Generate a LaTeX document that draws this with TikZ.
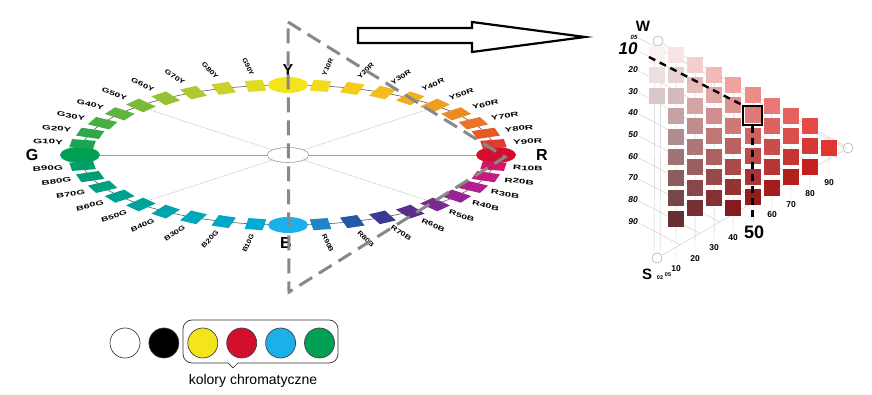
\documentclass[tikz,border=0pt]{standalone}
\usepackage{fontspec}
\setmainfont{Liberation Sans}
\usepackage{graphicx}
\usetikzlibrary{shapes.geometric,positioning}

\definecolor{cutgray}{HTML}{888888}
\definecolor{ncsred}{RGB}{226,36,30}
\definecolor{ncsblack}{RGB}{66,22,28}
\definecolor{dotY}{HTML}{F4E41C}
\definecolor{dotR}{HTML}{D2102E}
\definecolor{dotB}{HTML}{1CB0E8}
\definecolor{dotG}{HTML}{00A054}
% swatches of the hue circle
\definecolor{hueY10R}{HTML}{F2DA1C}
\definecolor{hueY20R}{HTML}{F4CC1C}
\definecolor{hueY30R}{HTML}{F3BE1D}
\definecolor{hueY40R}{HTML}{F2AE1E}
\definecolor{hueY50R}{HTML}{F09E20}
\definecolor{hueY60R}{HTML}{EE8A22}
\definecolor{hueY70R}{HTML}{EB7424}
\definecolor{hueY80R}{HTML}{E65A28}
\definecolor{hueY90R}{HTML}{DE3A2E}
\definecolor{hueR10B}{HTML}{D4166A}
\definecolor{hueR20B}{HTML}{C81A82}
\definecolor{hueR30B}{HTML}{B21E8E}
\definecolor{hueR40B}{HTML}{962490}
\definecolor{hueR50B}{HTML}{7A2A8E}
\definecolor{hueR60B}{HTML}{5C2E8C}
\definecolor{hueR70B}{HTML}{3A3A96}
\definecolor{hueR80B}{HTML}{2458AC}
\definecolor{hueR90B}{HTML}{1C86C8}
\definecolor{hueB10G}{HTML}{00AAD4}
\definecolor{hueB20G}{HTML}{00A8C8}
\definecolor{hueB30G}{HTML}{00A6BA}
\definecolor{hueB40G}{HTML}{00A4AC}
\definecolor{hueB50G}{HTML}{00A29E}
\definecolor{hueB60G}{HTML}{00A090}
\definecolor{hueB70G}{HTML}{00A082}
\definecolor{hueB80G}{HTML}{009E76}
\definecolor{hueB90G}{HTML}{009E6A}
\definecolor{hueG10Y}{HTML}{18A450}
\definecolor{hueG20Y}{HTML}{30A848}
\definecolor{hueG30Y}{HTML}{48AE42}
\definecolor{hueG40Y}{HTML}{60B43C}
\definecolor{hueG50Y}{HTML}{7ABA38}
\definecolor{hueG60Y}{HTML}{94C232}
\definecolor{hueG70Y}{HTML}{AECA2C}
\definecolor{hueG80Y}{HTML}{C8D228}
\definecolor{hueG90Y}{HTML}{DCDC24}

\tikzset{
  huedot/.style={
    ellipse,
    minimum width=40pt,
    minimum height=16pt,
    inner sep=0pt
  },
  hub/.style={
    ellipse,
    draw=gray!80,
    fill=white,
    line width=0.6pt,
    minimum width=42pt,
    minimum height=15pt,
    inner sep=0pt
  },
  huename/.style={
    font=\fontsize{6.5}{6.5}\selectfont\bfseries,
    inner sep=0.6pt
  },
  primary/.style={
    font=\fontsize{16}{16}\selectfont\bfseries,
    inner sep=0pt
  },
  huering/.style={draw=gray!70!black, line width=0.6pt},
  spoke/.style={draw=gray!75, line width=0.8pt},
  diagspoke/.style={draw=gray!75, line width=0.6pt, densely dotted},
  cutline/.style={draw=cutgray, line width=3pt, dash pattern=on 15pt off 8pt},
  hollowarrow/.style={draw=black, line width=2.2pt, fill=white, line join=miter},
  gridline/.style={draw=gray!40, line width=0.45pt},
  axisend/.style={
    circle,
    draw=gray!60,
    fill=white,
    line width=0.6pt,
    minimum size=10pt,
    inner sep=0pt
  },
  levelnum/.style={font=\fontsize{8.5}{8.5}\selectfont\bfseries\itshape, inner sep=1pt},
  chromanum/.style={font=\fontsize{8.5}{8.5}\selectfont\bfseries, inner sep=1pt},
  axisname/.style={font=\fontsize{15}{15}\selectfont\bfseries, inner sep=0pt},
  picked/.style={draw=black, line width=2.4pt, minimum size=19pt, inner sep=0pt},
  pickline/.style={draw=black, line width=2.4pt, dash pattern=on 7pt off 5pt},
  sample/.style={
    circle,
    draw=black!75,
    line width=0.7pt,
    minimum size=30pt,
    inner sep=0pt
  },
  bracket/.style={draw=black!80, line width=0.7pt}
}

\begin{document}
\begin{tikzpicture}[x=1pt, y=1pt]
    \useasboundingbox (0,0) rectangle (872,395);

    % hue circle
    \draw[huering] (288,240) ellipse [x radius=208, y radius=70];
    \node[hub] (hub) at (288,240) {};
    \node[huedot, fill=dotR] (dR) at (496,240) {};
    \node[huedot, fill=dotY] (dY) at (288,310) {};
    \node[huedot, fill=dotG] (dG) at (80,240) {};
    \node[huedot, fill=dotB] (dB) at (288,170) {};
    \node[primary] (lR) at (542,240) {R};
    \node[primary] (lY) at (288,325) {Y};
    \node[primary] (lG) at (32,240) {G};
    \node[primary] (lB) at (286,152) {B};

    \foreach \i/\lab in {1/Y90R,2/Y80R,3/Y70R,4/Y60R,5/Y50R,6/Y40R,7/Y30R,8/Y20R,9/Y10R,
        11/G90Y,12/G80Y,13/G70Y,14/G60Y,15/G50Y,16/G40Y,17/G30Y,18/G20Y,19/G10Y,
        21/B90G,22/B80G,23/B70G,24/B60G,25/B50G,26/B40G,27/B30G,28/B20G,29/B10G,
        31/R90B,32/R80B,33/R70B,34/R60B,35/R50B,36/R40B,37/R30B,38/R20B,39/R10B}{
        \pgfmathsetmacro\hueang{9*\i}
        \pgfmathsetmacro\labang{atan2(70*sin(\hueang),208*cos(\hueang))}
        \pgfmathsetmacro\sx{1+0.8*abs(cos(\hueang))}
        \pgfmathtruncatemacro\rside{cos(\hueang)>0}
        \coordinate (s\i) at ({288+208*cos(\hueang)},{240+70*sin(\hueang)});
        \coordinate (in\i) at ({288+196*cos(\hueang)},{240+64*sin(\hueang)});
        \fill[fill=hue\lab, shift={(s\i)}, yscale=0.46, rotate=\hueang] (-12,-9) rectangle (12,9);
        \ifnum\rside=1
            \node[huename, anchor=west, rotate=\labang] (n\lab)
                at ({288+227*cos(\hueang)},{240+80*sin(\hueang)}) {\scalebox{\sx}[1]{\lab}};
        \else
            \node[huename, anchor=east, rotate=\labang+180] (n\lab)
                at ({288+227*cos(\hueang)},{240+80*sin(\hueang)}) {\scalebox{\sx}[1]{\lab}};
        \fi
    }

    \draw[spoke] (hub) -- (dG);
    \draw[spoke] (hub) -- (dR);
    \draw[diagspoke] (hub) -- (in5);
    \draw[diagspoke] (hub) -- (in15);
    \draw[diagspoke] (hub) -- (in25);
    \draw[diagspoke] (hub) -- (in35);

    % cut through the circle
    \coordinate (apex) at (288,373);
    \coordinate (tip) at (505,238);
    \coordinate (foot) at (289,103);
    \draw[cutline] (apex) -- (tip) -- (foot) -- cycle;

    \draw[hollowarrow] (358,352) -- (472,352) -- (472,343) -- (585,358)
        -- (472,373) -- (472,367) -- (358,367) -- cycle;

    % NCS triangle
    \node[axisend] (Wdot) at (658,354) {};
    \node[axisend] (Sdot) at (657,137) {};
    \node[axisend] (Cdot) at (848,247) {};
    \node[axisname] (Wlbl) at (643,369) {W};
    \node[axisname] (Slbl) at (647,121) {S};
    \node[font=\fontsize{5.5}{5.5}\selectfont\bfseries, inner sep=0pt] (c02) at (660,117) {02};
    \node[font=\fontsize{5.5}{5.5}\selectfont\bfseries, inner sep=0pt] (c05) at (668,120) {05};

    \node[font=\fontsize{6}{6}\selectfont\bfseries\itshape, inner sep=1pt] (lv05) at (634,358) {05};
    \node[font=\fontsize{17}{17}\selectfont\bfseries\itshape, inner sep=0pt] (lv10) at (628,346) {10};
    \foreach \lv/\ly in {20/325,30/303,40/282,50/260,60/238,70/217,80/195,90/173}{
        \node[levelnum] (lv\lv) at (633,\ly) {\lv};
    }
    \foreach \lv/\ly in {05/358,20/325,30/303,40/282,50/260,60/238,70/217,80/195,90/173}{
        \pgfmathsetmacro\xe{(976.7-395+\ly)/1.11}
        \draw[gridline] ([yshift=-1pt]lv\lv.east) -- (\xe,{\ly-2-0.534*(\xe-641)});
    }
    \draw[gridline] (640,343) -- (837,{343-0.534*197});

    \foreach \cc/\bx/\by in {10/676/126,20/695/136,30/714/147,40/733/157,60/772/180,70/791/190,80/810/201,90/829/212}{
        \node[chromanum] (bl\cc) at (\bx,\by) {\cc};
    }
    \node[font=\fontsize{18}{18}\selectfont\bfseries, inner sep=0pt] (bl50) at (754,163) {50};
    \foreach \cc in {10,20,...,90}{
        \pgfmathsetmacro\xc{657+1.91*\cc}
        \draw[gridline] (\xc,{354-0.56*(\xc-657)}) -- (bl\cc.north);
    }
    \draw[gridline] ([xshift=-3pt]Wdot.south) -- ([xshift=-3pt]Sdot.north);
    \draw[gridline] ([xshift=3pt]Wdot.south) -- ([xshift=3pt]Sdot.north);
    \draw[gridline] (Wdot) -- (Cdot);
    \draw[gridline] (Sdot) -- (Cdot);

    \foreach \cc/\ytop/\nn in {0/47/3,10/47/9,20/57/8,30/67/7,40/77/7,50/87/6,60/98/5,70/108/4,80/118/3,90/140/1}{
        \pgfmathsetmacro\xc{657+1.91*\cc}
        \pgfmathsetmacro\cf{max(\cc,4)/100}
        \foreach \kk in {1,...,\nn}{
            \pgfmathsetmacro\sb{max(0.1*(\kk-1),0.02)}
            \pgfmathsetmacro\qq{100*(1-\sb)}
            \pgfmathsetmacro\pp{min(100*\cf/(1-\sb),100)}
            \pgfmathsetmacro\yt{395-\ytop-20.5*(\kk-1)}
            \fill[fill={ncsred!\pp!white!\qq!ncsblack}] (\xc-8,\yt) rectangle (\xc+8,\yt-16);
        }
    }

    \node[picked] (pick) at (752.5,279.5) {};
    \coordinate (w10) at (649,338);
    \coordinate (c50) at (752.5,175);
    \draw[pickline] (w10) -- (pick.north west);
    \draw[pickline] (pick.south) -- (c50);

    % samples
    \node[sample, fill=white] (cWhite) at (125,52) {};
    \node[sample, fill=black, right=8.2pt of cWhite] (cBlack) {};
    \node[sample, fill=dotY, right=8.2pt of cBlack] (cYellow) {};
    \node[sample, fill=dotR, right=8.2pt of cYellow] (cRed) {};
    \node[sample, fill=dotB, right=8.2pt of cRed] (cBlue) {};
    \node[sample, fill=dotG, right=8.2pt of cBlue] (cGreen) {};
    \draw[bracket, rounded corners=9pt] (228,32) -- (183,32) -- (183,75) -- (338,75) -- (338,32) -- (238,32);
    \draw[bracket] (238,32) -- (233,27) -- (228,32);
    \node[font=\fontsize{14}{14}\selectfont, inner sep=0pt] (chromlbl) at (253,14) {kolory chromatyczne};
\end{tikzpicture}
\end{document}
